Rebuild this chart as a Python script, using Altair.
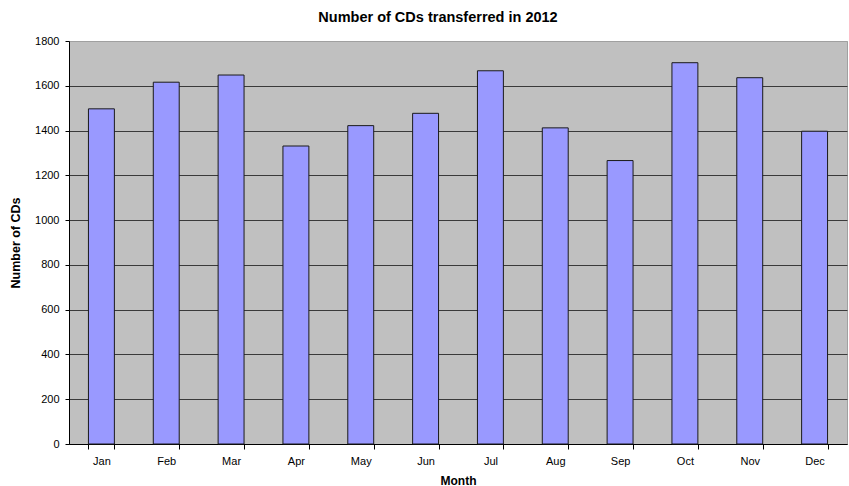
import altair as alt
import pandas as pd

months = ["Jan", "Feb", "Mar", "Apr", "May", "Jun",
          "Jul", "Aug", "Sep", "Oct", "Nov", "Dec"]
cds = [1497, 1616, 1648, 1331, 1422, 1477, 1667, 1412, 1266, 1703, 1636, 1397]

df = pd.DataFrame({"Month": months, "CDs": cds})

FONT = "Liberation Sans"

bars = alt.Chart(df).mark_bar(
    color="#9999ff", stroke="#1a1a1a", strokeWidth=1
).encode(
    x=alt.X(
        "Month:N", sort=months, title="Month",
        scale=alt.Scale(paddingInner=0.6, paddingOuter=0.3),
        axis=alt.Axis(
            labelAngle=0, tickBand="extent", tickSize=5, labelPadding=6,
            domainColor="#000000", tickColor="#000000", grid=False,
            labelFont=FONT, labelFontSize=11, labelColor="#000000",
            titleFont=FONT, titleFontSize=12, titleFontWeight="bold",
            titleColor="#000000", titlePadding=9,
        ),
    ),
    y=alt.Y(
        "CDs:Q", title="Number of CDs",
        scale=alt.Scale(domain=[0, 1800], nice=False),
        axis=alt.Axis(
            values=list(range(0, 1801, 200)), format="d",
            tickSize=4, labelPadding=6,
            domainColor="#000000", tickColor="#000000",
            grid=True,
            gridColor={"condition": {"test": "datum.value == 1800", "value": "#a0a0a0"},
                       "value": "#3a3a3a"},
            labelFont=FONT, labelFontSize=11, labelColor="#000000",
            titleFont=FONT, titleFontSize=12.5, titleFontWeight="bold",
            titleColor="#000000", titlePadding=12,
        ),
    ),
)

chart = bars.properties(
    width=778,
    height=403,
    background="#ffffff",
    title=alt.TitleParams(
        "Number of CDs transferred in 2012",
        font=FONT, fontSize=14.5, fontWeight="bold", color="#000000",
        anchor="middle", dx=-20, offset=10,
    ),
    autosize=alt.AutoSizeParams(type="none"),
    padding={"left": 69, "top": 41, "right": 2, "bottom": 42},
).configure_view(
    fill="#c0c0c0", stroke="#a0a0a0", strokeWidth=1
)

chart.save("out.html", embed_options={"renderer": "svg", "actions": False})
